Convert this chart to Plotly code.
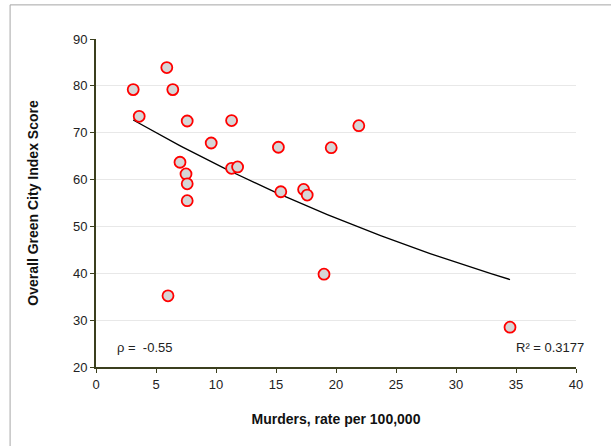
import numpy as np
import plotly.graph_objects as go

murders = [3.1, 3.6, 5.9, 6.4, 6.0, 7.6, 7.0, 7.5, 7.6, 7.6, 9.6, 11.3, 11.3, 11.8,
           15.2, 15.4, 17.3, 17.6, 19.6, 21.9, 19.0, 34.5]
score = [79.2, 73.5, 83.9, 79.2, 35.2, 72.5, 63.7, 61.2, 59.1, 55.5, 67.8, 72.6, 62.4, 62.7,
         66.9, 57.4, 57.9, 56.7, 66.8, 71.5, 39.8, 28.5]
x_ticks = [0, 5, 10, 15, 20, 25, 30, 35, 40]
y_ticks = [20, 30, 40, 50, 60, 70, 80, 90]
rho_text = "ρ =  -0.55"
r2_text = "R² = 0.3177"

# Exponential trendline (least squares on ln y), as Excel does
xa = np.array(murders)
ya = np.array(score)
b, lna = np.polyfit(xa, np.log(ya), 1)
xt = np.linspace(xa.min(), xa.max(), 100)
yt = np.exp(lna) * np.exp(b * xt)

font = "Arial, Liberation Sans, sans-serif"
axis_col = "#3b3f1e"

fig = go.Figure()
fig.add_trace(go.Scatter(x=xt, y=yt, mode="lines",
                         line=dict(color="black", width=1.3), hoverinfo="skip"))
fig.add_trace(go.Scatter(x=murders, y=score, mode="markers",
                         marker=dict(size=11, color="#d6d6d6",
                                     line=dict(color="#ff0000", width=1.8))))

fig.update_layout(
    width=611, height=446,
    margin=dict(l=96, r=35, t=39, b=79),
    paper_bgcolor="white", plot_bgcolor="white",
    showlegend=False,
    font=dict(family=font, size=13, color="#222"),
    xaxis=dict(range=[0, 40], tickvals=x_ticks, showgrid=False, zeroline=False,
               showline=True, linecolor=axis_col, linewidth=2, automargin=False,
               ticks="outside", ticklen=4, tickcolor=axis_col, tickwidth=1,
               tickfont=dict(size=13, color="#222"),
               title=dict(text="<b>Murders, rate per 100,000</b>",
                          font=dict(size=14, color="#111"), standoff=24)),
    yaxis=dict(range=[20, 90], tickvals=y_ticks, showgrid=True, gridcolor="#e8e8e8",
               gridwidth=1, zeroline=False, automargin=False,
               showline=True, linecolor=axis_col, linewidth=2,
               ticks="outside", ticklen=4, tickcolor=axis_col, tickwidth=1,
               tickfont=dict(size=13, color="#222"),
               title=dict(text="<b>Overall Green City Index Score</b>",
                          font=dict(size=14, color="#111"), standoff=31)),
)

fig.add_annotation(x=0.04, y=24.2, xref="paper", yref="y", text=rho_text,
                   showarrow=False, xanchor="left", yanchor="middle",
                   font=dict(size=13, color="#222"))
fig.add_annotation(x=1.02, y=24.2, xref="paper", yref="y", text=r2_text,
                   showarrow=False, xanchor="right", yanchor="middle",
                   font=dict(size=13, color="#222"))

fig.add_shape(type="rect", xref="paper", yref="paper",
              x0=-0.179, x1=1.09, y0=-0.26, y1=1.104,
              line=dict(color="#a6a6a6", width=1), fillcolor="rgba(0,0,0,0)",
              layer="below")

fig.write_html("out.html", config={"displayModeBar": False},
               post_script="document.body.style.margin='0';")
